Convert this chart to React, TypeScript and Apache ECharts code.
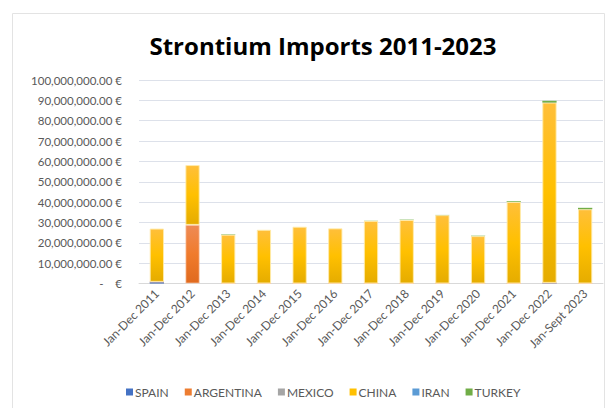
import React, { useEffect, useRef } from "react";
import * as echarts from "echarts";

const categories = [
  "Jan-Dec 2011", "Jan-Dec 2012", "Jan-Dec 2013", "Jan-Dec 2014", "Jan-Dec 2015",
  "Jan-Dec 2016", "Jan-Dec 2017", "Jan-Dec 2018", "Jan-Dec 2019", "Jan-Dec 2020",
  "Jan-Dec 2021", "Jan-Dec 2022", "Jan-Sept 2023",
];
const spain = [800000, 0, 0, 0, 0, 0, 0, 0, 0, 0, 0, 300000, 0];
const argentina = [0, 28800000, 0, 0, 0, 0, 0, 0, 0, 0, 0, 0, 0];
const mexico = [0, 0, 0, 0, 0, 0, 0, 0, 0, 0, 0, 0, 0];
const china = [26200000, 29400000, 24000000, 26400000, 27900000, 27100000, 30800000, 31200000, 33600000, 23300000, 40100000, 88600000, 36500000];
const iran = [0, 0, 0, 0, 0, 0, 0, 0, 0, 0, 0, 0, 0];
const turkey = [0, 0, 200000, 0, 0, 0, 100000, 200000, 100000, 200000, 300000, 900000, 700000];

const FONT = "Lato, 'Open Sans', sans-serif";

function grad(top: string, mid: string, bottom: string) {
  return new echarts.graphic.LinearGradient(0, 0, 0, 1, [
    { offset: 0, color: top },
    { offset: 0.5, color: mid },
    { offset: 1, color: bottom },
  ]);
}

export default function App() {
  const ref = useRef<HTMLDivElement>(null);
  useEffect(() => {
    if (!ref.current) return;
    const chart = echarts.init(ref.current, undefined, { renderer: "svg" });
    const mk = (name: string, data: number[], color: string, g: any, border: string, bw: number) => ({
      name,
      type: "bar",
      stack: "total",
      data,
      barWidth: "40%",
      itemStyle: { color: g, borderColor: border, borderWidth: bw },
      emphasis: { disabled: true },
      _c: color,
    });
    const series = [
      mk("SPAIN", spain, "#4472C4", grad("#5B84CF", "#4472C4", "#3A64AE"), "#4472C4", 0),
      mk("ARGENTINA", argentina, "#ED7D31", grad("#EE8A55", "#F07B2C", "#E06A1E"), "rgba(250,200,170,0.7)", 1),
      mk("MEXICO", mexico, "#A5A5A5", grad("#BBBBBB", "#A5A5A5", "#939393"), "#A5A5A5", 0),
      mk("CHINA", china, "#FFC000", grad("#FFBF3A", "#FFC000", "#E5AC00"), "rgba(255,235,170,0.9)", 1),
      mk("IRAN", iran, "#5B9BD5", grad("#7FB1E0", "#5B9BD5", "#4A87C0"), "#5B9BD5", 0),
      mk("TURKEY", turkey, "#70AD47", grad("#7DB857", "#70AD47", "#66A040"), "#70AD47", 0),
    ];
    chart.setOption({
      animation: false,
      color: ["#4472C4", "#ED7D31", "#A5A5A5", "#FFC000", "#5B9BD5", "#70AD47"],
      title: {
        text: "Strontium Imports 2011-2023",
        left: 318,
        top: 28,
        textAlign: "center",
        textStyle: { fontFamily: "'Open Sans', sans-serif", fontSize: 24, fontWeight: "bold", color: "#000" },
      },
      grid: { left: 139, right: 6, top: 80, bottom: 124.5, containLabel: false },
      legend: {
        top: 381,
        left: 121,
        itemWidth: 7,
        itemHeight: 7,
        itemGap: 16,
        icon: "rect",
        textStyle: { fontFamily: FONT, fontSize: 12, color: "#595959", padding: [0, 0, 0, -3] },
        data: series.map((s) => ({ name: s.name, itemStyle: { color: s._c, borderWidth: 0 } })),
      },
      xAxis: {
        type: "category",
        data: categories,
        axisLine: { show: true, lineStyle: { color: "#D9D9D9" } },
        axisTick: { show: false },
        axisLabel: { rotate: 45, fontFamily: FONT, fontSize: 12, color: "#595959", margin: 8, interval: 0 },
      },
      yAxis: {
        type: "value",
        min: 0,
        max: 100000000,
        interval: 10000000,
        axisLine: { show: false },
        axisTick: { show: false },
        splitLine: { lineStyle: { color: "#DDE1EA" } },
        axisLabel: {
          fontFamily: FONT,
          fontSize: 11.5,
          color: "#595959",
          margin: 17,
          formatter: (v: number) =>
            v === 0
              ? "-    €"
              : v.toLocaleString("en-US", { minimumFractionDigits: 2, maximumFractionDigits: 2 }) + " €",
        },
      },
      series: series.map(({ _c, ...s }) => s),
      graphic: [
        {
          type: "rect",
          shape: { x: 12.5, y: 13.5, width: 592, height: 420 },
          style: { fill: "none", stroke: "#E3E3E3", lineWidth: 1 },
          silent: true,
        },
      ],
    });
    return () => chart.dispose();
  }, []);
  return <div ref={ref} style={{ width: 609, height: 408, position: "absolute", left: 0, top: 0 }} />;
}
